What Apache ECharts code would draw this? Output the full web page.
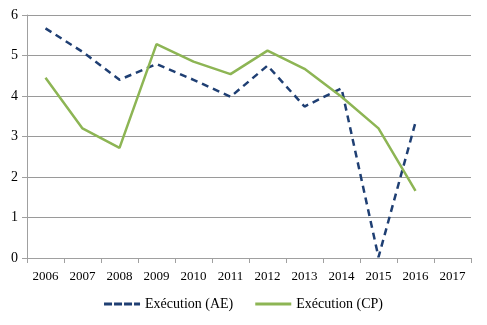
<!DOCTYPE html>
<html><head><meta charset="utf-8">
<script src="https://cdn.jsdelivr.net/npm/echarts@6/dist/echarts.min.js"></script>
<style>html,body{margin:0;padding:0;background:#fff}#c{width:487px;height:325px}</style>
</head><body><div id="c"></div>
<script>
const categories = ['2006','2007','2008','2009','2010','2011','2012','2013','2014','2015','2016','2017'];
const executionAE = [5.67, 5.09, 4.40, 4.79, 4.40, 3.98, 4.75, 3.74, 4.19, 0.02, 3.35, null];
const executionCP = [4.45, 3.20, 2.72, 5.28, 4.85, 4.54, 5.12, 4.67, 3.98, 3.20, 1.66, null];
const yTicks = [0,1,2,3,4,5,6];

const font = 'Liberation Serif';
const chart = echarts.init(document.getElementById('c'), null, {renderer:'canvas'});
chart.setOption({
  animation:false,
  grid:{left:27,right:16,top:15,bottom:67,containLabel:false},
  legend:{
    bottom:9, left:'center', itemWidth:36, itemHeight:3, itemGap:22,
    textStyle:{fontFamily:font,fontSize:14,color:'#000'},
    data:[{name:'Exécution (AE)',icon:'path://M0,0h8v3h-8zM10,0h8v3h-8zM20,0h8v3h-8zM30,0h6v3h-6z'},{name:'Exécution (CP)',icon:'rect'}]
  },
  xAxis:{
    type:'category', data:categories, boundaryGap:true,
    axisLine:{lineStyle:{color:'#a0a0a0'}},
    axisTick:{show:true,length:5,lineStyle:{color:'#a0a0a0'}},
    axisLabel:{fontFamily:font,fontSize:13,color:'#000',margin:12}
  },
  yAxis:{
    type:'value', min:0, max:6, interval:1,
    axisLine:{show:true,lineStyle:{color:'#a0a0a0'}},
    axisTick:{show:true,length:5,lineStyle:{color:'#a0a0a0'}},
    axisLabel:{fontFamily:font,fontSize:14,color:'#000',margin:9,
      formatter:v=>yTicks.includes(v)?String(v):''},
    splitLine:{lineStyle:{color:'#9a9a9a',width:1}}
  },
  series:[
    {name:'Exécution (AE)',type:'line',data:executionAE,symbol:'none',
     itemStyle:{color:'#1f3f73'},
     lineStyle:{color:'#1f3f73',width:2.5,type:[7,5]}},
    {name:'Exécution (CP)',type:'line',data:executionCP,symbol:'none',
     itemStyle:{color:'#8db554'},
     lineStyle:{color:'#8db554',width:2.5}}
  ]
});
</script></body></html>
